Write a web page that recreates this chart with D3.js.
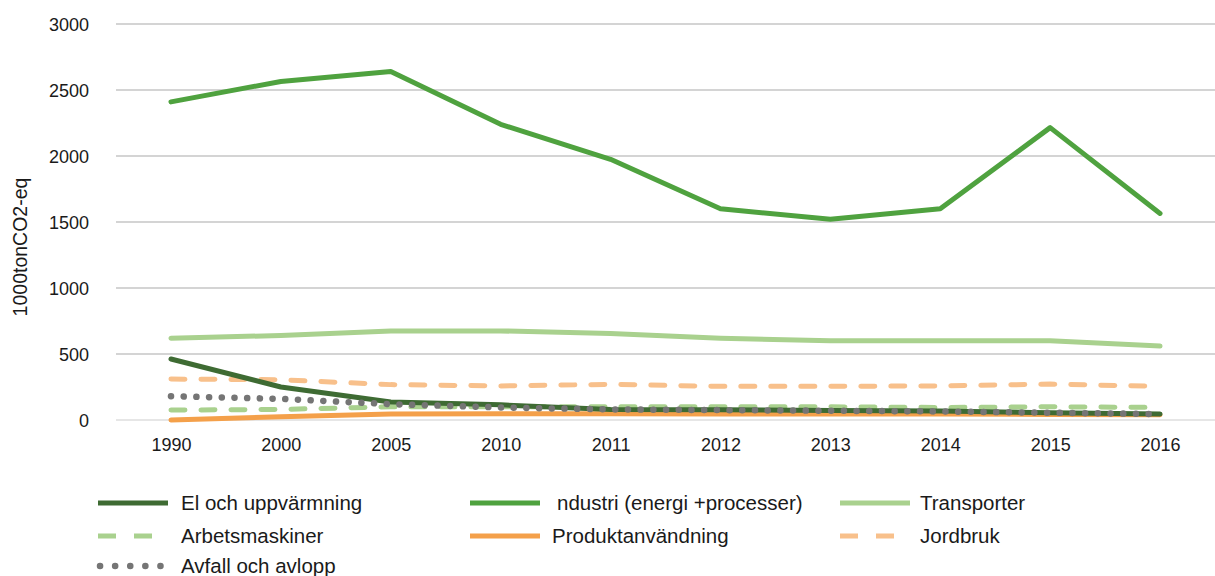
<!DOCTYPE html>
<html>
<head>
<meta charset="utf-8">
<script src="https://cdn.jsdelivr.net/npm/d3@7"></script>
<style>
  body { margin: 0; background: #fff; }
  text { font-family: "Liberation Sans", Arial, sans-serif; fill: #1a1a1a; }
</style>
</head>
<body>
<script>
var years = ["1990", "2000", "2005", "2010", "2011", "2012", "2013", "2014", "2015", "2016"];
var yTicks = [0, 500, 1000, 1500, 2000, 2500, 3000];

var elUpp      = [462, 250, 136, 115, 80, 78, 72, 68, 55, 45];
var industri   = [2410, 2565, 2640, 2240, 1975, 1600, 1520, 1600, 2215, 1565];
var transport  = [620, 640, 675, 675, 655, 620, 600, 600, 600, 560];
var arbets     = [75, 80, 100, 100, 100, 100, 100, 95, 100, 95];
var produkt    = [0, 25, 45, 48, 48, 45, 45, 45, 42, 40];
var jordbruk   = [310, 305, 268, 258, 270, 255, 255, 258, 272, 255];
var avfall     = [180, 160, 120, 95, 80, 75, 70, 65, 55, 45];

var seriesNames = ["El och uppvärmning", "ndustri (energi +processer)", "Transporter",
                   "Arbetsmaskiner", "Produktanvändning", "Jordbruk", "Avfall och avlopp"];

var width = 1215, height = 576;
var margin = {top: 24, left: 116, right: 0, bottom: 156};

var svg = d3.select("body").append("svg")
    .attr("width", width)
    .attr("height", height);

var x = d3.scalePoint()
    .domain(years)
    .range([margin.left, width - margin.right])
    .padding(0.5);

var y = d3.scaleLinear()
    .domain([0, 3000])
    .range([420, margin.top]);

// gridlines
svg.append("g").selectAll("line")
    .data(yTicks)
    .enter().append("line")
    .attr("x1", margin.left)
    .attr("x2", width)
    .attr("y1", function(d) { return y(d); })
    .attr("y2", function(d) { return y(d); })
    .attr("stroke", function(d) { return d === 0 ? "#e6e6e6" : "#d4d4d4"; })
    .attr("stroke-width", 1.8);

// y axis labels
var yAxis = svg.append("g")
    .attr("transform", "translate(89,0)")
    .call(d3.axisLeft(y).tickValues(yTicks).tickSize(0).tickFormat(d3.format("d")));
yAxis.select(".domain").remove();
yAxis.selectAll("text")
    .attr("font-size", 18)
    .attr("font-family", "Liberation Sans, Arial, sans-serif")
    .attr("fill", "#1a1a1a")
    .attr("dy", "0.35em")
    .attr("x", 0);

// x axis labels
var xAxis = svg.append("g")
    .attr("transform", "translate(0,435)")
    .call(d3.axisBottom(x).tickSize(0));
xAxis.select(".domain").remove();
xAxis.selectAll("text")
    .attr("font-size", 18)
    .attr("font-family", "Liberation Sans, Arial, sans-serif")
    .attr("fill", "#1a1a1a");

svg.append("text")
    .attr("transform", "translate(27,247) rotate(-90)")
    .attr("text-anchor", "middle")
    .attr("font-size", 19.5)
    .text("1000tonCO2-eq");

var styles = [
    {data: elUpp,     color: "#3e6b33", width: 5,   dash: null},
    {data: industri,  color: "#4fa23f", width: 5,   dash: null},
    {data: transport, color: "#a9d18e", width: 5,   dash: null},
    {data: arbets,    color: "#a9d18e", width: 5,   dash: "14,16"},
    {data: produkt,   color: "#f4a04a", width: 5,   dash: null},
    {data: jordbruk,  color: "#f8c08b", width: 5,   dash: "14,16"},
    {data: avfall,    color: "#757575", width: 6.5, dash: "0.1,12.6"}
];

var line = d3.line()
    .x(function(d, i) { return x(years[i]); })
    .y(function(d) { return y(d); });

// draw order so industri and transport on top like the original
var drawOrder = [4, 3, 5, 0, 6, 2, 1];
drawOrder.forEach(function(k) {
    var s = styles[k];
    svg.append("path")
        .datum(s.data)
        .attr("d", line)
        .attr("fill", "none")
        .attr("stroke", s.color)
        .attr("stroke-width", s.width)
        .attr("stroke-linecap", "round")
        .attr("stroke-linejoin", "round")
        .attr("stroke-dasharray", s.dash);
});

// legend
var legendPos = [
    {x: 98, y: 503}, {x: 470, y: 503}, {x: 840, y: 503},
    {x: 98, y: 536}, {x: 470, y: 536}, {x: 840, y: 536},
    {x: 98, y: 566}
];
var textX = [181, 557, 920, 181, 552, 920, 181];

var isDot = function(d) { return d.dash && d.dash.indexOf("0.1") === 0; };

var legend = svg.append("g").selectAll("g")
    .data(styles)
    .enter().append("g");

legend.append("line")
    .attr("x1", function(d, i) { return legendPos[i].x + (isDot(d) ? 2 : 0); })
    .attr("x2", function(d, i) { return legendPos[i].x + 70; })
    .attr("y1", function(d, i) { return legendPos[i].y; })
    .attr("y2", function(d, i) { return legendPos[i].y; })
    .attr("stroke", function(d) { return d.color; })
    .attr("stroke-width", function(d) { return d.width; })
    .attr("stroke-linecap", function(d) { return isDot(d) ? "round" : "butt"; })
    .attr("stroke-dasharray", function(d) { return d.dash ? (isDot(d) ? "0.1,15" : "18,18") : null; });

legend.append("text")
    .attr("x", function(d, i) { return textX[i]; })
    .attr("y", function(d, i) { return legendPos[i].y; })
    .attr("dy", "0.35em")
    .attr("font-size", 20.5)
    .text(function(d, i) { return seriesNames[i]; });
</script>
</body>
</html>
